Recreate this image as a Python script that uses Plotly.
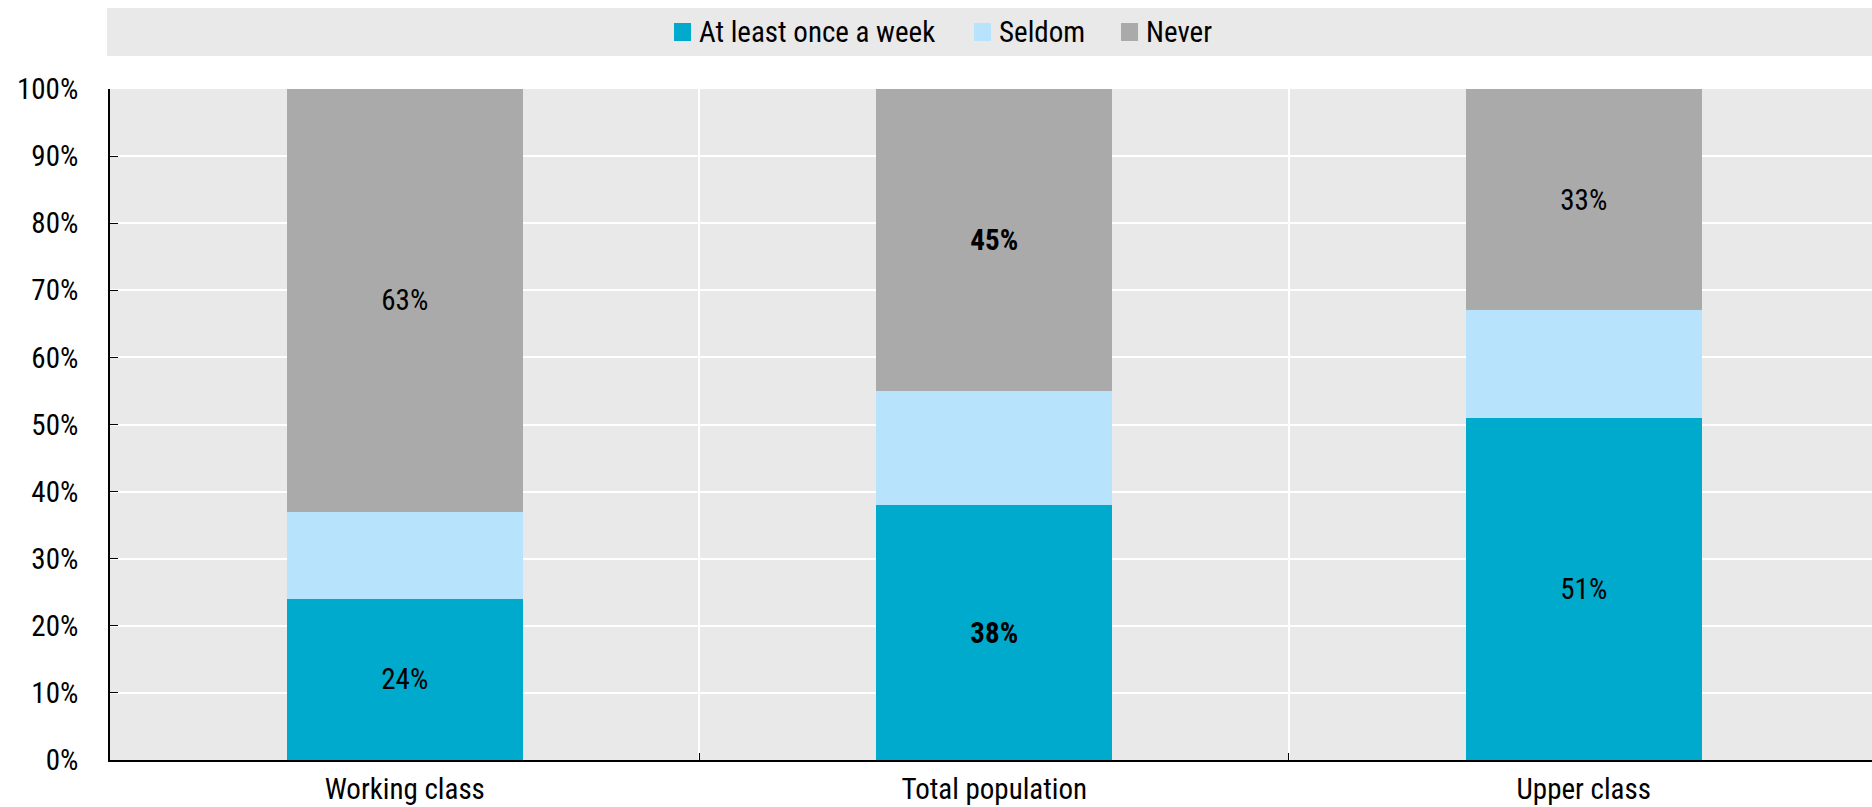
import plotly.graph_objects as go

categories = ["Working class", "Total population", "Upper class"]
series_names = ["At least once a week", "Seldom", "Never"]
series_colors = ["#00aacc", "#b7e4fc", "#aaaaaa"]
weekly = [24, 38, 51]
seldom = [13, 17, 16]
never = [63, 45, 33]
weekly_labels = ["24%", "<b>38%</b>", "51%"]
never_labels = ["63%", "<b>45%</b>", "33%"]
y_ticks = [0, 10, 20, 30, 40, 50, 60, 70, 80, 90, 100]
y_tick_text = [f"{v}%" for v in y_ticks]

FONT = "Roboto Condensed, Liberation Sans Narrow, Arial Narrow, sans-serif"
FS = 29
W, H = 1872, 807
ML, MR, MT, MB = 110, 0, 89, 47
PW, PH = W - ML - MR, H - MT - MB


def px_x(px):
    return (px - ML) / PW


def px_y(py):
    return (H - MB - py) / PH


fig = go.Figure()
label_font = dict(color="black", size=FS, family=FONT)
for name, color, vals, labels in zip(series_names, series_colors,
                                     [weekly, seldom, never],
                                     [weekly_labels, None, never_labels]):
    fig.add_bar(name=name, x=categories, y=vals, width=0.4,
                marker=dict(color=color, line=dict(width=0)),
                text=labels, textposition="inside" if labels else "none",
                insidetextanchor="middle", textfont=label_font,
                textangle=0, cliponaxis=False)

# Legend band across the top
fig.add_shape(type="rect", xref="paper", yref="paper",
              x0=px_x(107), x1=px_x(W), y0=px_y(56), y1=px_y(8),
              fillcolor="#e9e9e9", line=dict(width=0), layer="below")

# Legend entries: colour square followed by the series name
legend_marker_x = [674, 974, 1121]
for name, color, mx in zip(series_names, series_colors, legend_marker_x):
    fig.add_shape(type="rect", xref="paper", yref="paper",
                  x0=px_x(mx), x1=px_x(mx + 17), y0=px_y(41), y1=px_y(23),
                  fillcolor=color, line=dict(width=0))
    fig.add_annotation(xref="paper", yref="paper", x=px_x(mx + 23), y=px_y(32),
                       text=name, showarrow=False, xanchor="left", yanchor="middle",
                       font=dict(size=FS, family=FONT, color="black"))

fig.update_layout(
    barmode="stack",
    width=W, height=H,
    margin=dict(l=ML, r=MR, t=MT, b=MB),
    paper_bgcolor="white",
    plot_bgcolor="#e9e9e9",
    font=dict(family=FONT, size=FS, color="black"),
    showlegend=False,
    uniformtext=dict(minsize=10, mode="show"),
)
# The last category runs slightly past the right edge of the plotting area
fig.update_xaxes(range=[-0.5, 2.489], showline=True, linecolor="black", linewidth=2,
                 tickson="boundaries", ticks="inside", ticklen=7, tickcolor="black",
                 tickwidth=1.2, showgrid=True, gridcolor="white", gridwidth=1.5,
                 ticklabelstandoff=2, tickfont=dict(size=FS, family=FONT),
                 zeroline=False, automargin=False)
fig.update_yaxes(range=[0, 100], tickvals=y_ticks, ticktext=y_tick_text,
                 showline=True, linecolor="black", linewidth=1.8,
                 ticks="inside", ticklen=8, tickcolor="black", tickwidth=1.2,
                 showgrid=True, gridcolor="white", gridwidth=1.5,
                 ticklabelstandoff=24, automargin=False,
                 zeroline=False, tickfont=dict(size=FS, family=FONT))

fig.write_html("out.html")
